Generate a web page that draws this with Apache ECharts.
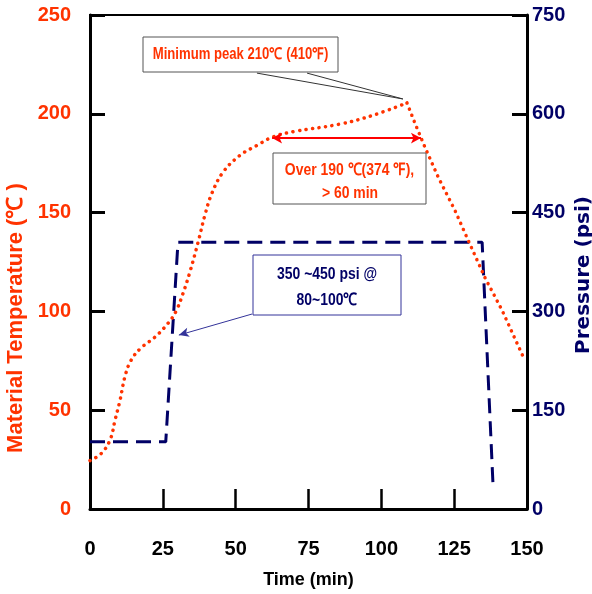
<!DOCTYPE html>
<html>
<head>
<meta charset="utf-8">
<title>Cure cycle</title>
<script src="https://cdn.jsdelivr.net/npm/echarts@6/dist/echarts.min.js"></script>
<style>
  html, body { margin: 0; padding: 0; background: #fff; }
  #chart { width: 592px; height: 594px; }
</style>
</head>
<body>
<div id="chart"></div>
<script>
// time (min), temperature (C) - rising part is smoothed, falling part is straight
const tempRise = [
  [0, 24.5], [3.8, 28], [6.9, 35], [8.6, 45], [10.3, 55], [12, 67], [14, 75],
  [17.5, 81.5], [22.3, 87], [26.8, 94], [29.5, 100], [31.9, 109], [34.3, 120],
  [37.1, 135], [39.5, 149], [41.9, 160], [45.7, 170.5], [51.5, 179], [57.3, 184],
  [62.8, 188.3], [70, 191], [85.8, 194.8], [97, 199.2], [108.8, 205.5]
]
const tempFall = [
  [108.8, 205.5], [111.6, 195], [115, 183], [119.5, 168], [125.3, 151],
  [129.8, 136], [135.6, 117], [141.4, 100.7], [148.7, 77]
]
// time (min), pressure (psi)
const pressure = [[0, 102], [26, 102], [30.2, 405], [134.6, 405], [138.3, 40]]

const timeTicks = { min: 0, max: 150, interval: 25 }
const tempTicks = { min: 0, max: 250, interval: 50 }
const psiTicks = { min: 0, max: 750, interval: 150 }

// annotation anchors in data coords
const over190Arrow = [[62.5, 187.7], [113.6, 187.7]]
const peakCallout = [[[57.3, 220.6], [107.4, 207.5]], [[74.5, 220.6], [107.4, 207.5]]]
const psiArrow = [[55.6, 296], [30.5, 264]]

const RED = '#FF3300'
const NAVY = '#000066'
const FONT = "'Liberation Sans', Arial, sans-serif"

const chart = echarts.init(document.getElementById('chart'))

function box(x, y, w, h, stroke) {
  return {
    type: 'rect', z: 100,
    shape: { x, y, width: w, height: h },
    style: { fill: '#fff', stroke, lineWidth: 1 }
  }
}

// narrow bold text faked by squeezing Liberation Sans horizontally
function label(text, x, y, color, size) {
  return {
    type: 'text', z: 101,
    x, y, scaleX: 0.82,
    style: {
      text, x: 0, y: 0, align: 'center', verticalAlign: 'middle',
      fill: color, font: `bold ${size}px ${FONT}`
    }
  }
}

const dotted = { color: RED, width: 3.5, type: [0.1, 6.5], cap: 'round' }

chart.setOption({
  animation: false,
  grid: {
    left: 90, right: 65, top: 15, bottom: 85,
    containLabel: false,
    outerBoundsMode: 'none',
    show: true, borderColor: '#000', borderWidth: 2
  },
  xAxis: {
    type: 'value',
    ...timeTicks,
    name: 'Time (min)',
    nameLocation: 'middle',
    nameGap: 62,
    nameTextStyle: { color: '#000', fontWeight: 'bold', fontSize: 18, fontFamily: FONT },
    axisLine: { show: true, lineStyle: { color: '#000', width: 3 } },
    axisTick: { show: true, inside: true, length: 20, lineStyle: { color: '#000', width: 2.5 } },
    axisLabel: { color: '#000', fontWeight: 'bold', fontSize: 20, fontFamily: FONT, margin: 30 },
    splitLine: { show: false }
  },
  yAxis: [
    {
      type: 'value',
      ...tempTicks,
      name: 'Material Temperature (℃ )',
      nameLocation: 'middle',
      nameRotate: 90,
      nameGap: 62,
      nameTextStyle: {
        color: RED, fontWeight: 'bold', fontSize: 22, fontFamily: FONT,
        padding: [0, 112, 0, 0]
      },
      axisLine: { show: true, lineStyle: { color: '#000', width: 3 } },
      axisTick: { show: true, inside: true, length: 15, lineStyle: { color: '#000', width: 3 } },
      axisLabel: { color: RED, fontWeight: 'bold', fontSize: 20, fontFamily: FONT, margin: 19 },
      splitLine: { show: false }
    },
    {
      type: 'value',
      ...psiTicks,
      position: 'right',
      name: 'Pressure (psi)',
      nameLocation: 'middle',
      nameRotate: 90,
      nameGap: 47,
      nameMoveOverlap: false,
      nameTextStyle: {
        color: NAVY, fontWeight: 'bold', fontSize: 20, fontFamily: "'DejaVu Sans', sans-serif",
        padding: [0, 26, 0, 0]
      },
      axisLine: { show: true, lineStyle: { color: '#000', width: 3 } },
      axisTick: { show: true, inside: true, length: 15, lineStyle: { color: '#000', width: 3 } },
      axisLabel: { color: NAVY, fontWeight: 'bold', fontSize: 20, fontFamily: FONT, margin: 5 },
      splitLine: { show: false }
    }
  ],
  series: [
    {
      name: 'Pressure',
      type: 'line',
      yAxisIndex: 1,
      data: pressure,
      symbol: 'none',
      lineStyle: { color: NAVY, width: 3, type: [15, 8] },
      markLine: {
        silent: true,
        symbol: ['none', 'arrow'],
        symbolSize: [7, 10],
        label: { show: false },
        lineStyle: { color: '#333399', width: 1, type: 'solid' },
        data: [[{ coord: psiArrow[0] }, { coord: psiArrow[1] }]]
      }
    },
    {
      name: 'Temperature',
      type: 'line',
      data: tempRise,
      smooth: 0.4,
      symbol: 'none',
      lineStyle: dotted,
      markLine: {
        silent: true,
        symbol: ['arrow', 'arrow'],
        symbolSize: [8, 10],
        label: { show: false },
        lineStyle: { color: '#FF0000', width: 2, type: 'solid' },
        data: [[{ coord: over190Arrow[0] }, { coord: over190Arrow[1] }]]
      }
    },
    {
      name: 'Temperature fall',
      type: 'line',
      data: tempFall,
      symbol: 'none',
      lineStyle: dotted,
      markLine: {
        silent: true,
        symbol: ['none', 'none'],
        label: { show: false },
        lineStyle: { color: '#333', width: 1, type: 'solid' },
        data: peakCallout.map((p) => [{ coord: p[0] }, { coord: p[1] }])
      }
    }
  ],
  graphic: [
    box(143, 37, 195, 35, '#555'),
    label('Minimum peak 210℃ (410℉)', 240.5, 55, RED, 16),
    box(273, 153, 153, 51, '#555'),
    label('Over 190 ℃(374 ℉),', 349.5, 170, RED, 17),
    label('> 60 min', 350, 193, RED, 17),
    box(253, 255, 148, 60, '#333399'),
    label('350 ~450 psi @', 327, 274, NAVY, 17),
    label('80~100℃', 327, 300, NAVY, 17)
  ]
})
</script>
</body>
</html>
